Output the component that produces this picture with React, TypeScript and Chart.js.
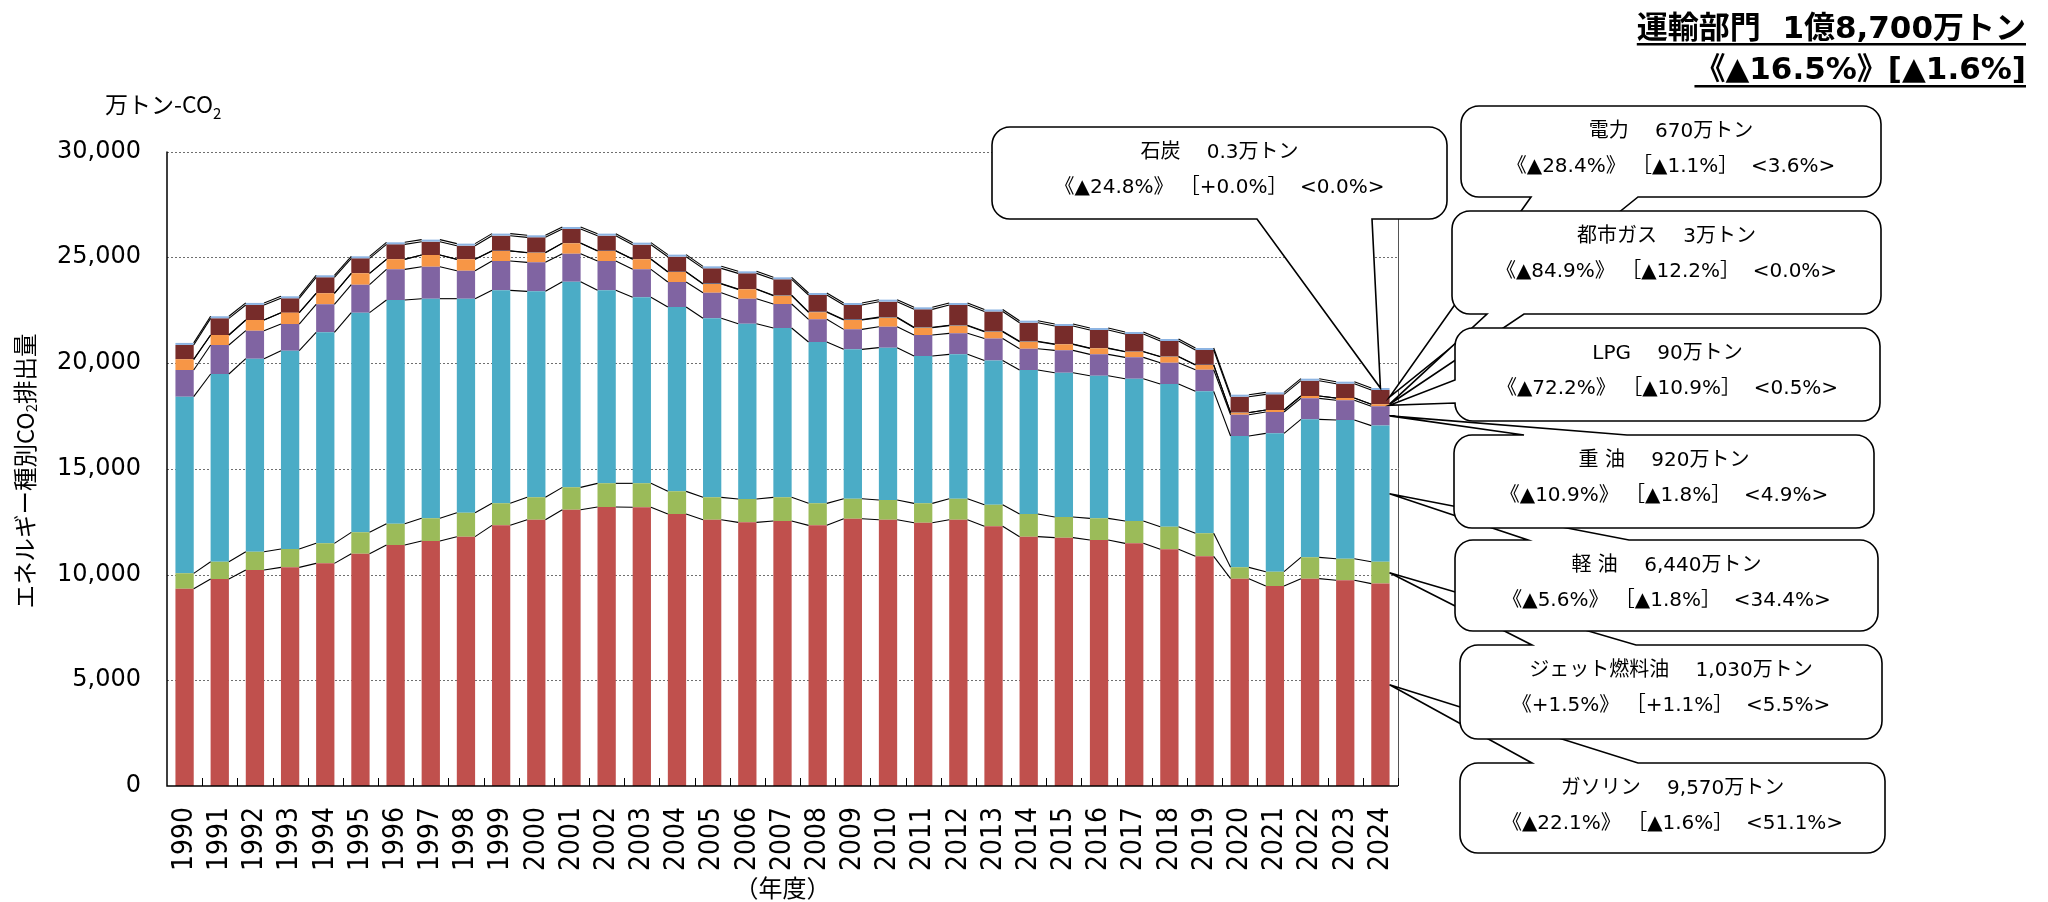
import React, { useEffect, useRef } from 'react';
import { Chart, registerables } from 'chart.js';

Chart.register(...registerables);

// ---------------- DATA ----------------
const years = [
  '1990', '1991', '1992', '1993', '1994', '1995', '1996', '1997', '1998', '1999',
  '2000', '2001', '2002', '2003', '2004', '2005', '2006', '2007', '2008', '2009',
  '2010', '2011', '2012', '2013', '2014', '2015', '2016', '2017', '2018', '2019',
  '2020', '2021', '2022', '2023', '2024',
];

const gasoline = [9330, 9787, 10212, 10338, 10527, 10984, 11394, 11584, 11789, 12324, 12591, 13065, 13191, 13180, 12860, 12591, 12466, 12529, 12324, 12639, 12591, 12450, 12591, 12285, 11789, 11742, 11631, 11473, 11190, 10858, 9803, 9456, 9803, 9726, 9570];
const jetFuel = [725, 819, 867, 867, 946, 1009, 1009, 1071, 1134, 1040, 1057, 1055, 1119, 1130, 1071, 1057, 1103, 1119, 1040, 946, 931, 914, 994, 1015, 1071, 976, 1024, 1056, 1071, 1088, 535, 678, 1008, 1019, 1030];
const diesel = [8352, 8873, 9125, 9378, 9976, 10387, 10575, 10386, 10118, 10071, 9740, 9725, 9125, 8794, 8716, 8464, 8290, 8006, 7628, 7061, 7203, 6966, 6824, 6822, 6808, 6824, 6745, 6729, 6746, 6714, 6210, 6540, 6525, 6558, 6440];
const heavyOil = [1261, 1371, 1324, 1260, 1324, 1323, 1450, 1513, 1324, 1387, 1371, 1323, 1387, 1324, 1182, 1213, 1182, 1135, 1072, 945, 992, 993, 993, 1033, 1009, 1056, 1009, 1009, 1008, 1024, 1008, 1009, 993, 937, 920];
const lpg = [504, 473, 504, 537, 520, 535, 472, 552, 535, 473, 457, 489, 473, 472, 473, 410, 441, 394, 331, 441, 426, 347, 363, 324, 331, 284, 283, 268, 283, 221, 95, 94, 110, 101, 90];
const cityGas = [0, 0, 1, 1, 2, 2, 3, 4, 5, 7, 9, 11, 13, 15, 17, 19, 21, 22, 23, 24, 24, 24, 23, 20, 18, 16, 14, 11, 9, 7, 5, 4, 3, 3, 3];
const electricity = [678, 789, 709, 676, 755, 707, 707, 626, 642, 718, 716, 667, 712, 679, 708, 721, 735, 750, 796, 686, 732, 843, 954, 936, 880, 851, 854, 825, 733, 702, 751, 737, 722, 677, 670];
const coal = [5, 4, 4, 3, 3, 3, 2, 2, 2, 2, 2, 1.5, 1.5, 1.2, 1, 1, 1, 0.9, 0.8, 0.7, 0.6, 0.6, 0.5, 0.4, 0.4, 0.4, 0.4, 0.3, 0.3, 0.3, 0.3, 0.3, 0.3, 0.3, 0.3];

const seriesNames = ['ガソリン', 'ジェット燃料油', '軽油', '重油', 'LPG', '都市ガス', '電力', '石炭'];
const seriesValues = [gasoline, jetFuel, diesel, heavyOil, lpg, cityGas, electricity, coal];
const seriesColors = ['#C0504D', '#9BBB59', '#4BACC6', '#8064A2', '#F79646', '#1F497D', '#772C2A', '#8DB4E2'];

const calloutTitles = [
  'ガソリン　 9,570万トン',
  'ジェット燃料油　 1,030万トン',
  '軽 油　 6,440万トン',
  '重 油　 920万トン',
  'LPG　 90万トン',
  '都市ガス　 3万トン',
  '電力　 670万トン',
  '石炭　 0.3万トン',
];
const calloutStats = [
  '《▲22.1%》 ［▲1.6%］  <51.1%>',
  '《+1.5%》 ［+1.1%］  <5.5%>',
  '《▲5.6%》 ［▲1.8%］  <34.4%>',
  '《▲10.9%》 ［▲1.8%］  <4.9%>',
  '《▲72.2%》 ［▲10.9%］  <0.5%>',
  '《▲84.9%》 ［▲12.2%］  <0.0%>',
  '《▲28.4%》 ［▲1.1%］  <3.6%>',
  '《▲24.8%》 ［+0.0%］  <0.0%>',
];

const yTickValues = [0, 5000, 10000, 15000, 20000, 25000, 30000];
const titleLines = ['運輸部門  1億8,700万トン', '《▲16.5%》[▲1.6%]'];
const unitLabelParts = ['万トン-CO', '2'];
const yTitleParts = ['エネルギー種別CO', '2', '排出量'];
const xTitle = '（年度）';

// ---------------- LAYOUT ----------------
const W = 2048;
const H = 902;
const PLOT = { left: 167, right: 1398, top: 151.5, bottom: 786 };
const JP = '"Noto Sans CJK JP", "Noto Sans CJK SC", sans-serif';
const MIX = `"DejaVu Sans", ${JP}`;

type Side = 'top' | 'bottom' | 'left';
interface CalloutLayout {
  series: number;
  x: number; y: number; w: number; h: number;
  side: Side; b1: number; b2: number;
  tipMode: 'center-top' | 'edge-mid';
}
// drawn in this order (first = lowest layer)
const calloutLayouts: CalloutLayout[] = [
  { series: 0, x: 1460, y: 763, w: 425, h: 90, side: 'top', b1: 1532, b2: 1638, tipMode: 'edge-mid' },
  { series: 1, x: 1460, y: 645, w: 422, h: 94, side: 'top', b1: 1532, b2: 1636, tipMode: 'edge-mid' },
  { series: 2, x: 1455, y: 540, w: 423, h: 91, side: 'top', b1: 1528, b2: 1629, tipMode: 'edge-mid' },
  { series: 3, x: 1454, y: 435, w: 420, h: 93, side: 'top', b1: 1524, b2: 1627, tipMode: 'edge-mid' },
  { series: 6, x: 1461, y: 106, w: 420, h: 91, side: 'bottom', b1: 1531, b2: 1638, tipMode: 'edge-mid' },
  { series: 5, x: 1452, y: 211, w: 429, h: 103, side: 'bottom', b1: 1487, b2: 1524, tipMode: 'edge-mid' },
  { series: 4, x: 1455, y: 328, w: 425, h: 93, side: 'left', b1: 380, b2: 403, tipMode: 'edge-mid' },
  { series: 7, x: 992, y: 127, w: 455, h: 92, side: 'bottom', b1: 1257, b2: 1372, tipMode: 'center-top' },
];

function calloutPath(
  ctx: CanvasRenderingContext2D, x: number, y: number, w: number, h: number, r: number,
  side: Side, b1: number, b2: number, tx: number, ty: number,
) {
  const lo = Math.min(b1, b2);
  const hi = Math.max(b1, b2);
  ctx.beginPath();
  ctx.moveTo(x + r, y);
  if (side === 'top') { ctx.lineTo(lo, y); ctx.lineTo(tx, ty); ctx.lineTo(hi, y); }
  ctx.lineTo(x + w - r, y);
  ctx.arcTo(x + w, y, x + w, y + r, r);
  ctx.lineTo(x + w, y + h - r);
  ctx.arcTo(x + w, y + h, x + w - r, y + h, r);
  if (side === 'bottom') { ctx.lineTo(hi, y + h); ctx.lineTo(tx, ty); ctx.lineTo(lo, y + h); }
  ctx.lineTo(x + r, y + h);
  ctx.arcTo(x, y + h, x, y + h - r, r);
  if (side === 'left') { ctx.lineTo(x, hi); ctx.lineTo(tx, ty); ctx.lineTo(x, lo); }
  ctx.lineTo(x, y + r);
  ctx.arcTo(x, y, x + r, y, r);
  ctx.closePath();
}

const decorPlugin = {
  id: 'decor',
  beforeDatasetsDraw(chart: any) {
    const { ctx, chartArea, scales } = chart;
    const ys = scales.y;
    ctx.save();
    ctx.strokeStyle = '#6f6f6f';
    ctx.lineWidth = 1;
    ctx.setLineDash([2, 2]);
    yTickValues.forEach((v) => {
      if (v === 0) return;
      const py = Math.round(ys.getPixelForValue(v)) + 0.5;
      ctx.beginPath();
      ctx.moveTo(chartArea.left, py);
      ctx.lineTo(chartArea.right, py);
      ctx.stroke();
    });
    ctx.restore();
  },
  afterDatasetsDraw(chart: any) {
    const { ctx, chartArea } = chart;
    const n = years.length;
    ctx.save();
    // coal top strip
    const coalMeta = chart.getDatasetMeta(7);
    ctx.fillStyle = seriesColors[7];
    coalMeta.data.forEach((el: any) => {
      ctx.fillRect(el.x - el.width / 2, el.y - 2, el.width, 2);
    });
    // series lines
    ctx.strokeStyle = '#000';
    ctx.lineWidth = 1.1;
    for (let d = 0; d < seriesValues.length; d++) {
      const meta = chart.getDatasetMeta(d);
      for (let i = 0; i < n - 1; i++) {
        const a = meta.data[i];
        const b = meta.data[i + 1];
        const ya = d === 7 ? a.y - 2 : a.y;
        const yb = d === 7 ? b.y - 2 : b.y;
        ctx.beginPath();
        ctx.moveTo(a.x + a.width / 2, ya);
        ctx.lineTo(b.x - b.width / 2, yb);
        ctx.stroke();
      }
    }
    // axes
    ctx.strokeStyle = '#555';
    ctx.lineWidth = 1;
    ctx.beginPath();
    ctx.moveTo(Math.round(chartArea.right) + 0.5, chartArea.top);
    ctx.lineTo(Math.round(chartArea.right) + 0.5, chartArea.bottom);
    ctx.stroke();
    ctx.strokeStyle = '#000';
    ctx.lineWidth = 1.5;
    ctx.beginPath();
    ctx.moveTo(chartArea.left, chartArea.top);
    ctx.lineTo(chartArea.left, chartArea.bottom);
    ctx.lineTo(chartArea.right, chartArea.bottom);
    ctx.stroke();
    // category tick marks
    const cw = (chartArea.right - chartArea.left) / n;
    ctx.lineWidth = 1;
    for (let i = 1; i <= n; i++) {
      const px = Math.round(chartArea.left + i * cw) + 0.5;
      ctx.beginPath();
      ctx.moveTo(px, chartArea.bottom);
      ctx.lineTo(px, chartArea.bottom - 8);
      ctx.stroke();
    }
    ctx.restore();
  },
  afterDraw(chart: any) {
    const { ctx, chartArea } = chart;
    const last = years.length - 1;
    ctx.save();
    // callouts
    calloutLayouts.forEach((c) => {
      const el = chart.getDatasetMeta(c.series).data[last];
      let tx: number;
      let ty: number;
      if (c.tipMode === 'center-top') {
        tx = el.x;
        ty = el.y - 2;
      } else {
        tx = el.x + el.width / 2;
        ty = (el.y + el.base) / 2;
      }
      calloutPath(ctx, c.x, c.y, c.w, c.h, 18, c.side, c.b1, c.b2, tx, ty);
      ctx.fillStyle = '#fff';
      ctx.fill();
      ctx.strokeStyle = '#000';
      ctx.lineWidth = 1.6;
      ctx.setLineDash([]);
      ctx.stroke();
      ctx.fillStyle = '#000';
      ctx.textAlign = 'center';
      ctx.textBaseline = 'middle';
      const cx = c.x + c.w / 2;
      ctx.font = `20px ${MIX}`;
      ctx.fillText(calloutTitles[c.series], cx, c.y + 26);
      ctx.font = `20px ${MIX}`;
      ctx.fillText(calloutStats[c.series], cx, c.y + 61);
    });

    // title (right aligned, bold, underlined)
    ctx.font = `bold 31px ${MIX}`;
    ctx.textAlign = 'right';
    ctx.textBaseline = 'alphabetic';
    const tRight = 2026;
    const baselines = [38, 79];
    const unders = [43, 85];
    titleLines.forEach((t, i) => {
      ctx.fillText(t, tRight, baselines[i]);
      const w = ctx.measureText(t).width;
      ctx.fillRect(tRight - w, unders[i], w, 2.5);
    });

    // unit label
    ctx.textAlign = 'left';
    ctx.textBaseline = 'middle';
    ctx.font = `23px ${JP}`;
    ctx.fillText(unitLabelParts[0], 105, 104);
    const uw = ctx.measureText(unitLabelParts[0]).width;
    ctx.font = `15px ${JP}`;
    ctx.fillText(unitLabelParts[1], 105 + uw, 113);

    // y axis title (vertical)
    ctx.translate(25, 471);
    ctx.rotate(-Math.PI / 2);
    ctx.font = `23.5px ${JP}`;
    const w1 = ctx.measureText(yTitleParts[0]).width;
    const w3 = ctx.measureText(yTitleParts[2]).width;
    ctx.font = `15px ${JP}`;
    const w2 = ctx.measureText(yTitleParts[1]).width;
    const total = w1 + w2 + w3;
    let sx = -total / 2;
    ctx.textAlign = 'left';
    ctx.font = `23.5px ${JP}`;
    ctx.fillText(yTitleParts[0], sx, 0);
    sx += w1;
    ctx.font = `15px ${JP}`;
    ctx.fillText(yTitleParts[1], sx, 6);
    sx += w2;
    ctx.font = `23.5px ${JP}`;
    ctx.fillText(yTitleParts[2], sx, 0);
    ctx.setTransform(1, 0, 0, 1, 0, 0);

    // x axis title
    ctx.textAlign = 'center';
    ctx.font = `24px ${JP}`;
    ctx.fillText(xTitle, (chartArea.left + chartArea.right) / 2, 888);
    ctx.restore();
  },
};

export default function App() {
  const ref = useRef<HTMLCanvasElement>(null);
  useEffect(() => {
    const canvas = ref.current;
    if (!canvas) return;
    const chart = new Chart(canvas, {
      type: 'bar',
      data: {
        labels: years,
        datasets: seriesValues.map((vals, i) => ({
          label: seriesNames[i],
          data: vals,
          backgroundColor: seriesColors[i],
          borderWidth: 0,
          barPercentage: 0.52,
          categoryPercentage: 1.0,
        })),
      },
      options: {
        responsive: false,
        devicePixelRatio: 1,
        animation: false,
        layout: { padding: { left: 0, right: W - PLOT.right, top: PLOT.top, bottom: 0 } },
        plugins: {
          legend: { display: false },
          tooltip: { enabled: false },
          title: { display: false },
        },
        scales: {
          x: {
            stacked: true,
            grid: { display: false, drawTicks: false },
            border: { display: false },
            ticks: {
              autoSkip: false,
              maxRotation: 90,
              minRotation: 90,
              padding: 21,
              color: '#000',
              font: { family: '"DejaVu Sans Condensed", "DejaVu Sans", sans-serif', size: 28 },
            },
            afterFit: (scale: any) => { scale.height = H - PLOT.bottom; },
          },
          y: {
            stacked: true,
            min: 0,
            max: 30000,
            grid: { display: false, drawTicks: false },
            border: { display: false },
            afterBuildTicks: (scale: any) => { scale.ticks = yTickValues.map((v) => ({ value: v })); },
            ticks: {
              padding: 26,
              color: '#000',
              font: { family: '"DejaVu Sans", sans-serif', size: 24 },
              callback: (v: any) => Number(v).toLocaleString('en-US'),
            },
            afterFit: (scale: any) => { scale.width = PLOT.left; },
          },
        },
      },
      plugins: [decorPlugin],
    } as any);
    return () => chart.destroy();
  }, []);

  return (
    <div style={{ width: W, height: H, position: 'relative', background: '#fff' }}>
      <style>{'html,body{margin:0;padding:0;overflow:hidden;background:#fff}'}</style>
      <canvas ref={ref} width={W} height={H} style={{ display: 'block', width: W, height: H }} />
    </div>
  );
}
